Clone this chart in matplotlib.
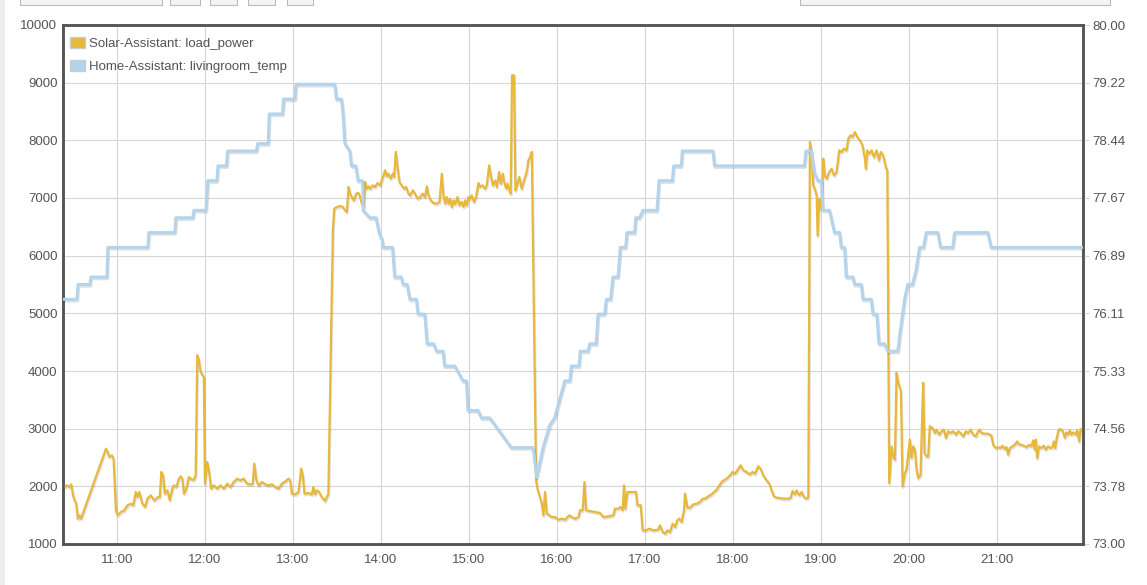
import numpy as np
import pandas as pd
import matplotlib
matplotlib.use("Agg")
import matplotlib.pyplot as plt
import matplotlib.dates as mdates
import matplotlib.patheffects as pe
from matplotlib.patches import Patch, Rectangle

plt.rcParams['font.family'] = ['Liberation Sans', 'DejaVu Sans']

# ---------------- data ----------------
series_labels = ["Solar-Assistant: load_power", "Home-Assistant: livingroom_temp"]

# minutes after 10:00
power_minutes = [
    24.2, 25.8, 27.6, 28.8, 30.3, 32.2, 33.3, 34.4, 35.5, 52.5, 53.7, 54.8, 56.6, 57.7, 59.3,
    60.5, 62.7, 65.0, 67.2, 69.5, 71.1, 72.9, 74.0, 75.2, 77.4, 79.2, 80.8, 83.1, 85.4, 88.1,
    89.2, 90.3, 91.5, 92.6, 94.4, 96.0, 97.8, 98.9, 100.5, 102.3, 103.5, 104.6, 105.7, 107.3,
    109.1, 110.9, 112.5, 113.7, 114.8, 115.9, 117.1, 119.3, 120.0, 121.6, 122.7, 124.3, 126.1,
    128.4, 130.6, 132.9, 135.2, 137.4, 139.7, 142.0, 144.2, 146.5, 148.8, 151.0, 152.6, 153.7,
    155.1, 156.7, 159.0, 161.2, 163.5, 165.7, 168.0, 170.3, 172.5, 175.2, 177.0, 178.2, 179.3,
    181.6, 183.8, 185.7, 186.8, 187.9, 190.6, 192.9, 194.0, 195.2, 196.3, 197.9, 199.7, 202.0,
    203.1, 204.2,
    207.3, 208.2, 210.0, 212.3, 214.1, 215.7, 216.8, 218.0, 219.1, 220.2, 221.4, 223.2, 224.8,
    225.9, 227.0, 228.2, 229.3, 230.5, 231.6, 232.7, 234.5, 236.1, 237.7, 239.5, 241.4, 243.0,
    244.1, 245.2, 246.8, 248.2, 249.1, 250.2, 251.4, 252.7, 254.3, 255.9, 257.3, 258.9, 260.0,
    261.8, 263.4, 265.0, 266.8, 268.6, 270.2, 271.4, 272.5, 274.1, 275.9, 278.2, 280.0, 281.6,
    282.7, 283.9, 285.0, 286.1, 287.3, 288.4, 289.6, 290.7, 292.3, 293.6, 295.2, 296.4, 297.5,
    298.6, 299.8, 300.9, 302.0, 303.6, 305.0, 306.6, 307.7, 309.3, 311.1, 312.3, 313.9, 315.0,
    316.4, 318.0, 319.1, 320.7, 321.8, 323.2, 324.1, 325.5, 326.4, 327.7, 328.6, 329.5, 330.9,
    331.8, 333.2, 334.5, 336.1, 337.7, 339.5, 340.7, 341.8, 343.0,
    345.9, 346.8, 348.2, 349.8, 350.9, 352.0, 353.2, 355.0, 356.6, 358.9, 361.1, 363.4, 365.7,
    367.3, 368.6, 370.2, 372.5, 374.8, 375.9, 377.7, 378.9, 380.0, 382.7, 386.1, 389.5, 391.8,
    395.2, 398.6, 399.8, 402.0, 403.6, 405.0, 405.9, 406.8, 408.2, 410.0, 414.1, 415.0, 417.3,
    418.6, 420.9, 423.2, 425.9, 429.3, 430.5, 432.3, 433.9, 435.5, 437.3, 439.1, 440.7, 442.3,
    443.6, 445.2, 446.8, 447.5, 449.1, 450.9, 453.2, 455.5, 457.7, 459.6, 461.1, 463.4, 465.7,
    467.3, 469.1, 470.9, 473.2, 475.9, 478.2, 480.0, 481.6, 483.2, 485.5, 487.3, 489.5, 491.8,
    493.6, 495.2, 497.5, 499.1, 500.9, 503.2, 505.0, 506.6, 508.2, 510.0, 512.3, 514.5, 518.0,
    519.6, 520.9, 522.5, 523.6, 525.5, 527.1, 528.7, 530.5, 531.6,
    532.7, 533.9, 535.0, 536.1, 537.3, 537.95, 539.1, 540.0, 541.1, 541.8, 542.9, 544.1, 545.9,
    547.5, 549.1, 550.9, 552.7, 554.3, 555.9, 557.7, 558.9, 560.5, 561.8, 563.4, 565.0, 566.8,
    568.6, 570.2, 570.9, 571.8, 573.2, 574.8, 576.4, 578.2, 579.8, 581.1, 582.7, 584.5, 585.5,
    586.8, 588.4, 589.5, 590.7, 591.8, 593.0, 594.1, 594.8, 595.9, 597.5, 598.6, 599.8, 600.9,
    602.0, 603.2, 604.3, 605.5, 606.6, 608.2, 609.1, 610.0, 610.9, 612.3, 613.4, 614.5, 616.4,
    618.0, 619.1, 620.9, 622.5, 624.1, 625.5, 627.0, 628.6, 630.5, 632.3, 633.9, 635.5, 637.3,
    639.1, 640.7, 642.3, 644.1, 645.9, 647.5, 648.6, 649.8, 652.0, 654.3, 656.6, 657.7, 659.6,
    661.1, 662.7, 664.1, 665.7, 666.8, 667.9, 669.1, 670.9, 672.5, 674.1, 675.5, 677.0, 678.6,
    680.5, 682.3, 683.9, 685.0, 686.1, 686.8, 687.7, 689.1, 690.7, 692.3, 693.6, 695.2, 696.8,
    698.2, 699.1, 700.0, 700.9, 702.1, 703.2, 705.0, 706.6, 707.7, 708.9, 710.0, 711.1, 712.3,
    714.1, 715.0, 716.4, 717.3, 718.6,
]
power_watts = [
    1988, 2017, 1988, 2035, 1815, 1699, 1439, 1497, 1439, 2653, 2595, 2509, 2538, 2480, 1584,
    1497, 1555, 1584, 1671, 1699, 1671, 1902, 1815, 1902, 1699, 1642, 1786, 1844, 1757, 1815,
    1815, 2249, 2191, 1873, 1931, 1757, 1960, 2017, 1988, 2133, 2173, 2133, 1873, 1960,
    2162, 2116, 2116, 2191, 4272, 4185, 3983, 3896, 2046, 2422, 2277, 1960, 2017,
    1960, 2017, 1960, 2046, 1988, 2075, 2133, 2104, 2133, 2046, 2035, 2046, 2393,
    2104, 2017, 2075, 2035, 2017, 2035, 1988, 1960, 2046, 2092, 2133, 2104, 1873,
    1861, 1902, 2306, 2191, 1873, 1884, 1861, 1988, 1861, 1931, 1902, 1815, 1746,
    1815, 1861,
    6439, 6815, 6844, 6861, 6844, 6786, 6757, 7191, 7075, 7017, 6960, 7075, 7087,
    7017, 6902, 6844, 7277, 7162, 7202, 7162, 7220, 7191, 7260, 7220, 7364, 7480,
    7376, 7422, 7335, 7422, 7364, 7798, 7538, 7277, 7220, 7162, 7191, 7075, 7046,
    7133, 7075, 6988, 7017, 7075, 7017, 7202, 7046, 6960, 6913, 6902, 6931, 7422,
    7046, 6902, 7017, 6902, 6988, 6844, 6960, 6890, 7017, 6873, 6931, 6844, 6960,
    6873, 7017, 6988, 7046, 6931, 7017, 7260, 7191, 7220, 7162, 7220, 7566, 7393,
    7220, 7306, 7191, 7451, 7249, 7422, 7277, 7162, 7249, 7133, 7075, 9127, 9127,
    7133, 7249, 7364, 7162, 7306, 7451, 7653, 7711, 7798,
    2104, 1960, 1844, 1699, 1497, 1902, 1526, 1497, 1468, 1468, 1422, 1439, 1422,
    1468, 1497, 1468, 1439, 1468, 1584, 1584, 2075, 1584, 1572, 1555, 1538, 1468,
    1480, 1497, 1613, 1613, 1642, 1584, 2017, 1613, 1902, 1902, 1902, 1671, 1671,
    1237, 1237, 1266, 1237, 1249, 1324, 1208, 1179, 1237, 1208, 1353, 1295, 1410,
    1439, 1382, 1584, 1873, 1630, 1630, 1688, 1699, 1728, 1786, 1786, 1827, 1861,
    1902, 1942, 2017, 2092, 2133, 2191, 2249, 2220, 2277, 2364, 2277, 2249, 2208,
    2249, 2220, 2347, 2306, 2191, 2104, 2046, 1931, 1827, 1803, 1798, 1786, 1786,
    1803, 1919, 1861, 1931, 1844, 1902, 1815, 1786, 1815,
    7971, 7797, 7218, 7160, 7044, 6347, 6986, 6812, 7102, 7681, 7391, 7334, 7450,
    7507, 7391, 7450, 7826, 7797, 7855, 7826, 8029, 8087, 8058, 8145, 8058, 8000,
    7913, 7681, 7507, 7826, 7768, 7826, 7710, 7826, 7652, 7797, 7739, 7536, 7478,
    2055, 2693, 2519, 2461, 3969, 3795, 3708, 3650, 1997, 2229, 2287, 2577, 2809,
    2490, 2693, 2635, 2287, 2142, 2200, 3041, 3795, 2577, 2519, 2519, 3041, 3012,
    2925, 2983, 2896, 2954, 2983, 2838, 2954, 2925, 2954, 2896, 2954, 2925, 2867,
    2954, 2925, 2983, 2896, 2867, 2954, 2983, 2925, 2913, 2913, 2878, 2722, 2664,
    2681, 2664, 2704, 2646, 2681, 2548, 2664, 2693, 2722, 2780, 2722, 2722, 2704,
    2681, 2722, 2693, 2797, 2635, 2809, 2490, 2693, 2664, 2704, 2635, 2693, 2664,
    2681, 2780, 2664, 2809, 2954, 2994, 2971, 2838, 2936, 2896, 2971, 2896, 2936,
    2896, 2971, 2780, 2994, 2954,
]

temp_minutes = [
    23.2, 32.7, 33.5, 41.6, 42.3, 53.2, 53.8, 81.1, 81.8, 99.5, 100.2, 111.8, 112.5, 120.7,
    122.0, 128.2, 128.9, 134.8, 135.5, 155.2, 155.9, 163.2, 163.9, 173.0, 173.7, 181.4, 182.1,
    208.6, 209.8, 213.2, 214.3, 215.5, 218.9, 220.0, 223.0, 224.5, 227.6, 228.0, 232.5, 236.8,
    238.8, 241.0, 241.6, 248.0, 249.5, 254.0, 255.2, 258.0, 259.8, 264.3, 265.4, 270.0, 271.6,
    276.1, 278.0, 282.5, 283.6, 290.5, 296.1, 298.4, 299.5, 306.3, 308.7, 314.3, 329.1, 343.9,
    346.4, 350.7, 355.2, 358.6, 365.5, 369.0, 370.0, 375.2, 376.1, 381.4, 382.5, 387.0, 388.2,
    392.7, 393.9, 396.8, 398.4, 401.8, 403.4, 407.0, 407.9, 413.2, 413.9, 416.6, 418.8, 428.4,
    429.8, 438.9, 439.8, 445.0, 445.7, 466.6, 467.7, 529.0, 530.0, 533.6, 535.9, 538.2, 540.5,
    541.6, 546.1, 549.5, 553.0, 554.1, 556.4, 557.5, 562.1, 563.2, 567.8, 568.9, 574.6, 575.7,
    578.4, 579.8, 583.6, 585.9, 592.7, 593.9, 597.3, 599.5, 602.7, 605.2, 607.5, 610.2, 612.1,
    620.0, 621.8, 630.2, 631.4, 654.1, 656.4, 718.6,
]
temp_degF = [
    76.3, 76.3, 76.5, 76.5, 76.6, 76.6, 77.0, 77.0, 77.2, 77.2, 77.4, 77.4, 77.5, 77.5,
    77.9, 77.9, 78.1, 78.1, 78.3, 78.3, 78.4, 78.4, 78.8, 78.8, 79.0, 79.0, 79.2,
    79.2, 79.0, 79.0, 78.8, 78.4, 78.3, 78.1, 78.1, 77.9, 77.9, 77.5, 77.4, 77.4,
    77.2, 77.1, 77.0, 77.0, 76.6, 76.6, 76.5, 76.5, 76.3, 76.3, 76.1, 76.1, 75.7,
    75.7, 75.6, 75.6, 75.4, 75.4, 75.2, 75.2, 74.8, 74.8, 74.7, 74.7, 74.3, 74.3,
    73.9, 74.3, 74.6, 74.7, 75.2, 75.2, 75.4, 75.4, 75.6, 75.6, 75.7, 75.7, 76.1,
    76.1, 76.3, 76.3, 76.6, 76.6, 77.0, 77.0, 77.2, 77.2, 77.4, 77.4, 77.5, 77.5,
    77.9, 77.9, 78.1, 78.1, 78.3, 78.3, 78.1, 78.1, 78.3, 78.3, 78.0, 77.9, 77.9,
    77.5, 77.5, 77.2, 77.2, 77.0, 77.0, 76.6, 76.6, 76.5, 76.5, 76.3, 76.3, 76.1,
    76.1, 75.7, 75.7, 75.6, 75.6, 75.8, 76.3, 76.5, 76.5, 76.7, 77.0, 77.0, 77.2,
    77.2, 77.0, 77.0, 77.2, 77.2, 77.0, 77.0,
]

power_ticks = list(range(1000, 10001, 1000))
temp_min, temp_max = 73.0, 80.0
x_start_min, x_end_min = 23.2, 719.0

# ---------------- drawing ----------------
base = pd.Timestamp("2024-01-01 10:00")
def to_time(mins):
    return base + pd.to_timedelta(np.asarray(mins, dtype=float), unit="m")

c_power = "#E8B83C"
c_temp = "#B3D4EC"
c_text = "#545454"
c_grid = "#D6D6D6"

fig = plt.figure(figsize=(11.47, 5.85), dpi=100)
fig.patch.set_facecolor("white")
ax = fig.add_axes([63 / 1147, 41 / 585, 1020 / 1147, 519 / 585])
ax2 = ax.twinx()

shadow = [pe.SimpleLineShadow(offset=(0.6, -1.2), shadow_color="black", alpha=0.12), pe.Normal()]

ax.plot(to_time(power_minutes), power_watts, color=c_power, lw=1.6,
        solid_joinstyle="round", path_effects=shadow, zorder=3)
ax2.plot(to_time(temp_minutes), temp_degF, color=c_temp, lw=2.2,
         solid_joinstyle="round", path_effects=shadow, zorder=3)

ax.set_xlim(to_time([x_start_min])[0], to_time([x_end_min])[0])
ax.set_ylim(power_ticks[0], power_ticks[-1])
ax.set_yticks(power_ticks)
ax.set_yticklabels([str(v) for v in power_ticks])

ax2.set_ylim(temp_min, temp_max)
rt = np.linspace(temp_min, temp_max, 10)
ax2.set_yticks(rt)
ax2.set_yticklabels([f"{v:.2f}" for v in rt])

ax.xaxis.set_major_locator(mdates.HourLocator())
ax.xaxis.set_major_formatter(mdates.DateFormatter("%H:%M"))

ax.grid(True, color=c_grid, lw=0.8)
ax.set_axisbelow(True)

for a in (ax, ax2):
    for s in a.spines.values():
        s.set_color(c_text)
        s.set_linewidth(1.8)
ax.tick_params(axis="x", length=0, labelsize=9.5, labelcolor=c_text, pad=7)
ax.tick_params(axis="y", length=0, labelsize=9.5, labelcolor=c_text, pad=4)
ax2.tick_params(axis="y", length=4, color=c_grid, labelsize=9.5, labelcolor=c_text, pad=3)

handles = [Patch(facecolor=c_power, edgecolor="#CCCCCC", lw=1.0),
           Patch(facecolor=c_temp, edgecolor="#CCCCCC", lw=1.0)]
leg = ax.legend(handles, series_labels, loc="upper left", bbox_to_anchor=(0.0, 0.99),
                frameon=False, fontsize=9.5, handlelength=1.2, handleheight=0.9,
                handletextpad=0.3, labelspacing=0.75, borderaxespad=0.2, borderpad=0.3)
for t in leg.get_texts():
    t.set_color(c_text)

# page chrome: left strip and partially visible buttons at the top
fig.patches.append(Rectangle((0, 0), 5 / 1147, 1, transform=fig.transFigure,
                             facecolor="#EEEEEE", edgecolor="none", zorder=0))
for x0, x1 in [(20, 162), (170, 200), (210, 237), (248, 275), (287, 313), (800, 1110)]:
    fig.patches.append(Rectangle((x0 / 1147, 580 / 585), (x1 - x0) / 1147, 10 / 585,
                                 transform=fig.transFigure, facecolor="#F4F4F4",
                                 edgecolor="#BBBBBB", lw=0.8, zorder=0))

fig.savefig("out.png", dpi=100)
